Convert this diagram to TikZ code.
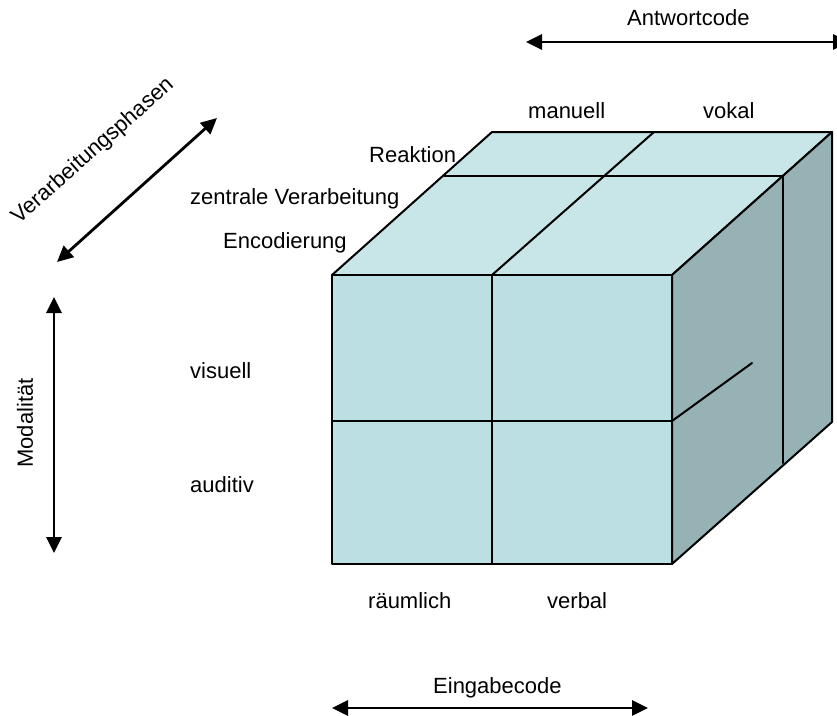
\documentclass[tikz,border=0pt]{standalone}
\usepackage{fontspec}
\setmainfont{Liberation Sans}
\usetikzlibrary{arrows.meta}

\definecolor{topface}{RGB}{200,230,232}
\definecolor{frontface}{RGB}{187,223,226}
\definecolor{sideface}{RGB}{150,178,181}

\begin{document}
\begin{tikzpicture}[x=1pt,y=-1pt,
  lbl/.style={font=\fontsize{22}{26}\selectfont, inner sep=0pt},
  edge/.style={line width=2pt, line join=round, line cap=round},
  axis/.style={line width=2.8pt,
    {Triangle[length=16pt,width=15pt]}-{Triangle[length=16pt,width=15pt]}}]

\useasboundingbox (0,0) rectangle (837,715);
\clip (0,0) rectangle (837,715);

% cube corners
\coordinate (FTL) at (332,275);
\coordinate (FTR) at (672,275);
\coordinate (FBL) at (332,564);
\coordinate (FBR) at (672,564);
\coordinate (BTL) at (492,132);
\coordinate (BTR) at (832,132);
\coordinate (BBR) at (832,422);

% faces
\filldraw[edge, fill=topface]   (FTL) -- (FTR) -- (BTR) -- (BTL) -- cycle;
\filldraw[edge, fill=sideface]  (FTR) -- (BTR) -- (BBR) -- (FBR) -- cycle;
\filldraw[edge, fill=frontface] (FTL) rectangle (FBR);

% cell divisions
\coordinate (fm1) at (492,275);  \coordinate (fm2) at (492,564);
\coordinate (fh1) at (332,421);  \coordinate (fh2) at (672,421);
\coordinate (tm2) at (654,132);
\coordinate (tr1) at (444,176);  \coordinate (tr2) at (783,176);
\coordinate (sv2) at (783,463);
\coordinate (sh2) at (752,363);
\draw[edge] (fm1) -- (fm2);
\draw[edge] (fh1) -- (fh2);
\draw[edge] (fm1) -- (tm2);
\draw[edge] (tr1) -- (tr2);
\draw[edge] (tr2) -- (sv2);
\draw[edge] (fh2) -- (sh2);

% axis labels and arrows
\node[lbl, anchor=base west] (antwort) at (627,25) {Antwortcode};
\coordinate (aw1) at (526,42);
\coordinate (aw2) at (849,42);
\draw[axis] (aw1) -- (aw2);

\node[lbl, anchor=base west] (eingabe) at (433,693) {Eingabecode};
\coordinate (ei1) at (332,708);
\coordinate (ei2) at (648,708);
\draw[axis] (ei1) -- (ei2);

\node[lbl, rotate=41.5] (phasen) at (93,151) {Verarbeitungsphasen};
\coordinate (ph1) at (57,262);
\coordinate (ph2) at (217,118);
\draw[axis] (ph1) -- (ph2);

\node[lbl, rotate=90] (modal) at (25,423) {Modalität};
\coordinate (mo1) at (54,297);
\coordinate (mo2) at (54,553);
\draw[axis] (mo1) -- (mo2);

% category labels
\node[lbl, anchor=base west] (manuell)  at (528,118) {manuell};
\node[lbl, anchor=base west] (vokal)    at (703,118) {vokal};
\node[lbl, anchor=base west] (reakt)    at (369,162) {Reaktion};
\node[lbl, anchor=base west] (zentral)  at (190,204) {zentrale Verarbeitung};
\node[lbl, anchor=base west] (encod)    at (223,248) {Encodierung};
\node[lbl, anchor=base west] (visuell)  at (190,378) {visuell};
\node[lbl, anchor=base west] (auditiv)  at (190,492) {auditiv};
\node[lbl, anchor=base west] (raeuml)   at (368,608) {räumlich};
\node[lbl, anchor=base west] (verbal)   at (547,608) {verbal};

\end{tikzpicture}
\end{document}
